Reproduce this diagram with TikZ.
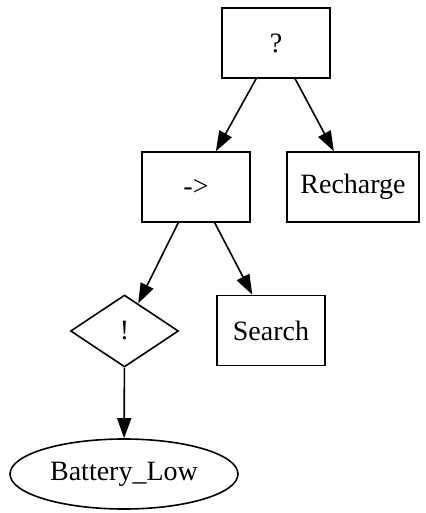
\documentclass[tikz,border=0pt]{standalone}
\usepackage{fontspec}
\setmainfont{Liberation Serif}
\usetikzlibrary{shapes.geometric,arrows.meta}

\tikzset{
  bt/.style={draw, line width=0.8pt, inner sep=0pt, font=\fontsize{14}{16}\selectfont},
  boxnode/.style={bt, rectangle, minimum height=35pt, minimum width=54pt},
  condnode/.style={bt, ellipse, minimum height=35pt, minimum width=114pt},
  decnode/.style={bt, diamond, minimum height=36pt, minimum width=54pt},
  link/.style={line width=0.8pt, -{Triangle[length=10pt,width=7pt]}}
}

\begin{document}
\begin{tikzpicture}[x=0.5pt, y=-0.5pt] %pixel grid, y runs down
\useasboundingbox (0,0) rectangle (425,513);
% nodes
\node[boxnode] (fallback) at (276,43) {?};
\node[boxnode] (sequence) at (196,187) {->};
\node[boxnode, minimum width=66pt] (recharge) at (353,187) {Recharge};
\node[decnode] (inverter) at (124.5,331) {!};
\node[boxnode] (search) at (271,330.5) {Search};
\node[condnode] (battery) at (124,474) {Battery\_Low};
% edges
\draw[link] (fallback) -- (sequence);
\draw[link] (fallback) -- (recharge);
\draw[link] (sequence) -- (inverter);
\draw[link] (sequence) -- (search);
\draw[link] (inverter) -- (battery);
\end{tikzpicture}
\end{document}
